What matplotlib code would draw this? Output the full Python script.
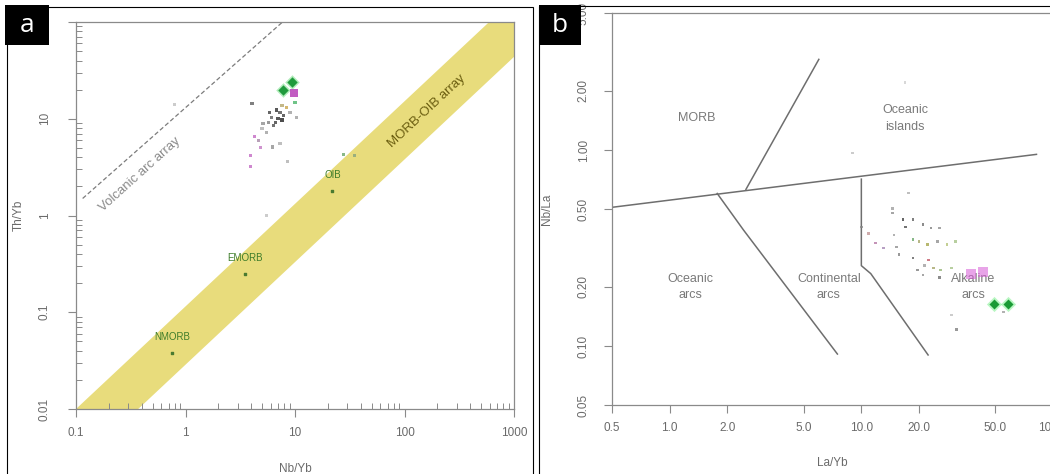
import numpy as np
import matplotlib
matplotlib.use("Agg")
import matplotlib.pyplot as plt
from matplotlib.patches import Rectangle, Polygon
from matplotlib.ticker import FixedLocator, NullLocator, LogLocator, NullFormatter

plt.rcParams['font.family'] = ['Liberation Sans', 'DejaVu Sans']

# ---- panel a data: Th/Yb vs Nb/Yb ----
ref_names = ['NMORB', 'EMORB', 'OIB']
ref_nb = [0.76, 3.5, 22.0]
ref_th = [0.038, 0.25, 1.8]

# MORB-OIB array and volcanic arc array end points
band_upper_x = [0.1, 1000]
band_upper_y = [0.01, 174]
band_lower_x = [0.37, 1000]
band_lower_y = [0.01, 43.6]
arc_x = [0.115, 7.7]
arc_y = [1.5, 100]

a_nb = [4.05, 5.9, 6.8, 7.3, 6.1, 7.0, 5.7, 6.6, 7.6, 5.1, 9.0, 8.4, 7.6, 10.0, 10.4,
        5.5, 5.0, 4.3, 4.6, 6.2, 7.3, 4.8, 3.9, 3.9, 8.6, 5.5, 27.5, 35.0, 0.8, 6.4, 7.9]
a_th = [14.5, 11.7, 12.3, 11.5, 10.4, 10.1, 9.2, 9.2, 9.7, 9.0, 11.5, 13.2, 13.8, 14.8, 10.4,
        7.2, 8.0, 6.5, 6.0, 5.1, 5.6, 5.0, 4.2, 3.2, 3.6, 1.0, 4.3, 4.2, 14.0, 8.6, 10.8]
a_col = ['#555555', '#333333', '#222222', '#444444', '#555555', '#222222', '#777777', '#333333',
         '#111111', '#888888', '#999999', '#c8a040', '#b0a060', '#40b060', '#999999',
         '#999999', '#aaaaaa', '#c060c0', '#a080a0', '#888888', '#aaaaaa', '#c070c0',
         '#c060c0', '#c060c0', '#aaaaaa', '#bbbbbb', '#60a060', '#80a080', '#bbbbbb',
         '#444444', '#333333']
a_dia_nb = [7.8, 9.4]
a_dia_th = [19.8, 24.0]
a_sq_nb = [9.8]
a_sq_th = [18.5]

# ---- panel b data: Nb/La vs La/Yb ----
b_lines = [
    ([0.5, 82], [0.51, 0.95]),
    ([2.5, 6.0], [0.63, 2.9]),
    ([1.77, 2.43, 7.5], [0.6, 0.39, 0.091]),
    ([10, 10, 11.2, 22.3], [0.71, 0.257, 0.234, 0.09]),
]
b_regions = ['MORB', 'Oceanic\nislands', 'Oceanic\narcs', 'Continental\narcs', 'Alkaline\narcs']
b_reg_x = [1.38, 16.9, 1.28, 6.76, 38.4]
b_reg_y = [1.45, 1.45, 0.20, 0.20, 0.20]

b_lay = [17.7, 14.6, 14.6, 16.5, 18.6, 21.0, 23.1, 25.5, 17.0, 14.8, 10.9, 11.9, 13.1, 15.7,
         15.2, 18.6, 20.0, 22.2, 25.0, 28.0, 31.0, 18.6, 22.5, 21.3, 19.6, 23.9, 26.0, 25.5,
         21.0, 29.5, 29.5, 31.3, 55.0, 9.0, 16.9, 10.0]
b_nbla = [0.604, 0.502, 0.477, 0.441, 0.441, 0.415, 0.40, 0.40, 0.405, 0.368, 0.376, 0.335,
          0.316, 0.292, 0.32, 0.348, 0.34, 0.33, 0.34, 0.33, 0.34, 0.281, 0.275, 0.258, 0.244,
          0.25, 0.244, 0.224, 0.23, 0.25, 0.144, 0.121, 0.149, 0.966, 2.2, 0.405]
b_col = ['#aaaaaa', '#999999', '#888888', '#333333', '#555555', '#666666', '#777777', '#888888',
         '#444444', '#999999', '#c09090', '#b070a0', '#a080b0', '#777777', '#888888', '#60a060',
         '#a0a060', '#a0a040', '#888888', '#b0c070', '#a0c080', '#555555', '#c05060', '#999999',
         '#777777', '#a0a060', '#90b070', '#666666', '#888888', '#a0c080', '#bbbbbb', '#777777',
         '#999999', '#bbbbbb', '#cccccc', '#888888']
b_dia_x = [49.4, 58.5]
b_dia_y = [0.164, 0.164]
b_sq_x = [37.5, 43.0]
b_sq_y = [0.232, 0.238]

W, H = 1050, 474
fig = plt.figure(figsize=(W / 100, H / 100), dpi=100)


def fx(px):
    return px / W


def fy(py):
    return 1 - py / H


spine_c = '#8a8a8a'
tick_c = '#6a6a6a'

# ================= panel a =================
ax = fig.add_axes([fx(76), fy(409), fx(514) - fx(76), fy(22) - fy(409)])
ax.set_xscale('log')
ax.set_yscale('log')
ax.set_xlim(0.1, 1000)
ax.set_ylim(0.01, 100)

band = Polygon([(band_upper_x[0], band_upper_y[0]), (band_lower_x[0], band_lower_y[0]),
                (band_lower_x[1], band_lower_y[1]), (band_upper_x[1], band_upper_y[1])],
               closed=True, facecolor='#e8dc7c', edgecolor='none', zorder=1)
ax.add_patch(band)
ax.plot(arc_x, arc_y, ls=(0, (3.5, 2)), color='#7c7c7c', lw=0.9, zorder=2)

ax.scatter(ref_nb, ref_th, s=4, marker='s', color='#4a7a30', zorder=3)
for n, x, y in zip(ref_names, ref_nb, ref_th):
    ax.annotate(n, (x, y), xytext=(0, 8), textcoords='offset points', ha='center',
                va='bottom', fontsize=7, color='#3f7d2a', zorder=4)

ax.text(0.80, 0.77, 'MORB-OIB array', transform=ax.transAxes, rotation=43, ha='center',
        va='center', fontsize=9.5, color='#6b5e10', zorder=4)
ax.text(0.145, 0.605, 'Volcanic arc array', transform=ax.transAxes, rotation=42, ha='center',
        va='center', fontsize=9.5, color='#8a8a8a', zorder=4)

ax.scatter(a_nb, a_th, s=5, marker='s', c=a_col, alpha=0.75, linewidths=0, zorder=3)
ax.scatter(a_dia_nb, a_dia_th, s=55, marker='D', color='#7de08c', alpha=0.6, linewidths=0, zorder=3)
ax.scatter(a_dia_nb, a_dia_th, s=28, marker='D', color='#1f9a3c', linewidths=0, zorder=4)
ax.scatter(a_sq_nb, a_sq_th, s=30, marker='s', color='#b840b8', alpha=0.85, linewidths=0, zorder=4)

ax.xaxis.set_major_locator(FixedLocator([0.1, 1, 10, 100, 1000]))
ax.yaxis.set_major_locator(FixedLocator([0.01, 0.1, 1, 10, 100]))
ax.xaxis.set_minor_locator(LogLocator(base=10, subs=np.arange(2, 10)))
ax.yaxis.set_minor_locator(LogLocator(base=10, subs=np.arange(2, 10)))
ax.xaxis.set_minor_formatter(NullFormatter())
ax.yaxis.set_minor_formatter(NullFormatter())
ax.set_xticklabels(['0.1', '1', '10', '100', '1000'])
ax.set_yticklabels(['0.01', '0.1', '1', '10', '100'], rotation=90, va='center')
ax.tick_params(which='major', direction='out', length=6, width=0.8, color=spine_c,
               labelsize=8.5, labelcolor=tick_c)
ax.tick_params(axis='y', which='major', pad=12)
ax.tick_params(axis='x', which='major', pad=7)
ax.tick_params(which='minor', direction='in', length=4, width=0.7, color=spine_c)
for s in ax.spines.values():
    s.set_color(spine_c)
    s.set_linewidth(0.9)
ax.set_xlabel('Nb/Yb', fontsize=8.5, color=tick_c, labelpad=17)
ax.set_ylabel('Th/Yb', fontsize=8.5, color=tick_c, labelpad=10)

# ================= panel b =================
bx = fig.add_axes([fx(612), fy(405), fx(1053) - fx(612), fy(13) - fy(405)])
bx.set_xscale('log')
bx.set_yscale('log')
bx.set_xlim(0.5, 100)
bx.set_ylim(0.05, 5)

for xs, ys in b_lines:
    bx.plot(xs, ys, color='#6e6e6e', lw=1.1, zorder=2)
for t, x, y in zip(b_regions, b_reg_x, b_reg_y):
    bx.text(x, y, t, ha='center', va='center', fontsize=9, color='#7a7a7a',
            linespacing=1.5, zorder=4)

bx.scatter(b_lay, b_nbla, s=4, marker='s', c=b_col, alpha=0.75, linewidths=0, zorder=3)
bx.scatter(b_sq_x, b_sq_y, s=45, marker='s', color='#d65ad6', alpha=0.55, linewidths=0, zorder=5)
bx.scatter(b_dia_x, b_dia_y, s=60, marker='D', color='#80f090', alpha=0.55, linewidths=0, zorder=3)
bx.scatter(b_dia_x, b_dia_y, s=26, marker='D', color='#1a9a35', linewidths=0, zorder=4)

bx.xaxis.set_major_locator(FixedLocator([0.5, 1, 2, 5, 10, 20, 50, 100]))
bx.yaxis.set_major_locator(FixedLocator([0.05, 0.1, 0.2, 0.5, 1, 2, 5]))
bx.xaxis.set_minor_locator(NullLocator())
bx.yaxis.set_minor_locator(NullLocator())
bx.set_xticklabels(['0.5', '1.0', '2.0', '5.0', '10.0', '20.0', '50.0', '100.0'])
bx.set_yticklabels(['0.05', '0.10', '0.20', '0.50', '1.00', '2.00', '5.00'],
                   rotation=90, va='center')
bx.tick_params(which='major', direction='out', length=6, width=0.8, color=spine_c,
               labelsize=8.5, labelcolor=tick_c)
bx.tick_params(axis='y', pad=10)
bx.tick_params(axis='x', pad=6)
for s in bx.spines.values():
    s.set_color(spine_c)
    s.set_linewidth(0.9)
bx.set_xlabel('La/Yb', fontsize=8.5, color=tick_c, labelpad=17)
bx.set_ylabel('Nb/La', fontsize=8.5, color=tick_c, labelpad=18)

# ================= frames and panel letters =================
fig.add_artist(Rectangle((fx(7), fy(H + 5)), fx(533) - fx(7), fy(7) - fy(H + 5),
                         transform=fig.transFigure, fill=False, edgecolor='black', lw=0.8))
fig.add_artist(Rectangle((fx(539), fy(H + 5)), fx(W + 5) - fx(539), fy(6) - fy(H + 5),
                         transform=fig.transFigure, fill=False, edgecolor='black', lw=0.8))
for letter, x0, x1 in [('a', 5, 49), ('b', 539, 581)]:
    fig.add_artist(Rectangle((fx(x0), fy(45)), fx(x1) - fx(x0), fy(5) - fy(45),
                             transform=fig.transFigure, facecolor='black', edgecolor='none',
                             zorder=10))
    fig.text(fx((x0 + x1) / 2), fy(25), letter, ha='center', va='center', color='white',
             fontsize=19, family=['Open Sans', 'DejaVu Sans'], zorder=11)

fig.savefig('out.png', dpi=100)
